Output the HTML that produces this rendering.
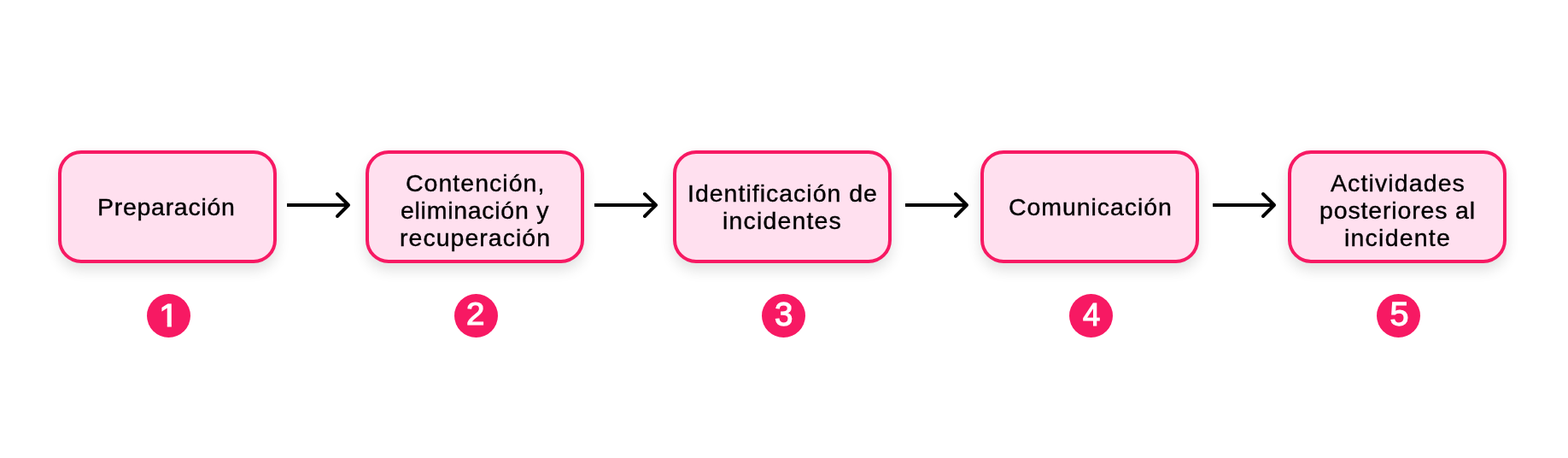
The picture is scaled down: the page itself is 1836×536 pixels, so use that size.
<!DOCTYPE html>
<html lang="es">
<head>
<meta charset="utf-8">
<title>Respuesta a incidentes</title>
<style>
  html, body { margin: 0; padding: 0; background: #ffffff; }
  body { width: 1836px; height: 536px; position: relative; overflow: hidden;
         font-family: "Liberation Sans", sans-serif; }
  .step { position: absolute; top: 176px; width: 256px; height: 132px; box-sizing: border-box;
          border: 4px solid #f71963; border-radius: 27px; background: #ffe0ef;
          box-shadow: 0 8px 16px rgba(0,0,0,0.12);
          display: flex; flex-direction: column; align-items: center; justify-content: center; text-align: center;
          font-size: 28.5px; line-height: 32px; color: #000; white-space: nowrap; -webkit-text-stroke: 0.4px #000; }
  .step span { display: block; position: relative; will-change: transform; }
  .num { position: absolute; top: 343.85px; width: 51.2px; height: 51.2px; border-radius: 50%;
         background: #f71963; color: #fff; font-weight: 400; font-size: 36.3px; line-height: 51.2px;
         text-align: center; -webkit-text-stroke: 1.2px #fff; will-change: transform; }
  .num b { display: block; position: relative; font-weight: inherit; }
  .arrow { position: absolute; top: 220px; width: 80px; height: 40px; overflow: visible; }
  .arrow path { fill: none; stroke: #000; stroke-width: 4; }
  .arrow .hd { stroke-linecap: round; stroke-linejoin: round; }
</style>
</head>
<body>
  <div class="step" style="left:68px">
    <span style="letter-spacing:0.72px;left:-1.31px;top:0.00px">Preparación</span>
  </div>
  <div class="step" style="left:428px">
    <span style="letter-spacing:1.02px;left:0.70px;top:4.00px">Contención,</span>
    <span style="letter-spacing:0.72px;left:-0.43px;top:4.00px">eliminación y</span>
    <span style="letter-spacing:1.03px;left:0.52px;top:4.00px">recuperación</span>
  </div>
  <div class="step" style="left:788px">
    <span style="letter-spacing:1.00px;left:0.28px;top:0.00px">Identificación de</span>
    <span style="letter-spacing:1.17px;left:0.06px;top:0.00px">incidentes</span>
  </div>
  <div class="step" style="left:1148px">
    <span style="letter-spacing:0.93px;left:0.41px;top:0.00px">Comunicación</span>
  </div>
  <div class="step" style="left:1508px">
    <span style="letter-spacing:1.11px;left:1.04px;top:4.00px">Actividades</span>
    <span style="letter-spacing:0.85px;left:0.33px;top:4.00px">posteriores al</span>
    <span style="letter-spacing:1.22px;left:0.48px;top:4.00px">incidente</span>
  </div>
  <svg class="arrow" style="left:332px" viewBox="0 0 80 40"><path class="sh" d="M4 20H76"/><path class="hd" d="M63 7L76 20L63 33"/></svg>
  <svg class="arrow" style="left:692px" viewBox="0 0 80 40"><path class="sh" d="M4 20H76"/><path class="hd" d="M63 7L76 20L63 33"/></svg>
  <svg class="arrow" style="left:1056px" viewBox="0 0 80 40"><path class="sh" d="M4 20H76"/><path class="hd" d="M63 7L76 20L63 33"/></svg>
  <svg class="arrow" style="left:1416px" viewBox="0 0 80 40"><path class="sh" d="M4 20H76"/><path class="hd" d="M63 7L76 20L63 33"/></svg>
  <div class="num" style="left:172.15px"><b style="left:-0.40px;top:-0.40px;transform:scale(1.120,1.000);clip-path:polygon(0 0, 100% 0, 100% 34.45px, 28.5px 34.45px, 28.5px 100%, 23.95px 100%, 23.95px 34.45px, 0 34.45px)">1</b></div>
  <div class="num" style="left:532.15px"><b style="left:-0.80px;top:-2.00px;transform:scale(1.060,1.020);">2</b></div>
  <div class="num" style="left:892.15px"><b style="left:-0.40px;top:-2.00px;transform:scale(1.060,1.060);">3</b></div>
  <div class="num" style="left:1252.15px"><b style="left:0.40px;top:-1.20px;transform:scale(1.000,1.000);">4</b></div>
  <div class="num" style="left:1612.15px"><b style="left:0.80px;top:-2.00px;transform:scale(1.090,1.060);">5</b></div>
</body>
</html>
